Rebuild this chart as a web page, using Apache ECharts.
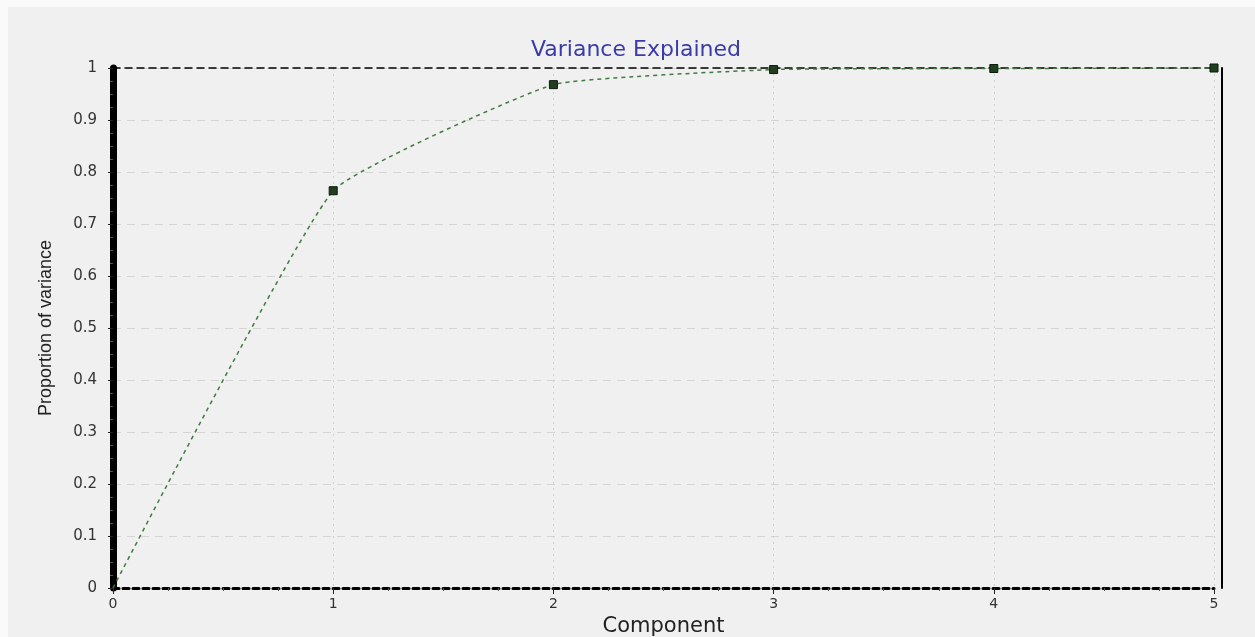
<!DOCTYPE html>
<html>
<head>
<meta charset="utf-8">
<script src="https://cdn.jsdelivr.net/npm/echarts@6/dist/echarts.min.js"></script>
<style>html,body{margin:0;padding:0;background:#fafafa;}#chart{width:1255px;height:637px;}</style>
</head>
<body>
<div id="chart"></div>
<script>
const components = [0, 1, 2, 3, 4, 5];
const proportion = [0, 0.764, 0.968, 0.997, 0.999, 1.0];
const xTicks = [0, 1, 2, 3, 4, 5];
const yTicks = [0, 0.1, 0.2, 0.3, 0.4, 0.5, 0.6, 0.7, 0.8, 0.9, 1];

const seriesData = components.map((c, i) => (
  i === 0 ? { value: [c, proportion[i]], symbol: 'none' } : [c, proportion[i]]
));
const chart = echarts.init(document.getElementById('chart'));
chart.setOption({
  backgroundColor: '#fafafa',
  animation: false,
  graphic: [{
    type: 'rect', z: -10, silent: true,
    shape: { x: 8, y: 7, width: 1247, height: 630 },
    style: { fill: '#f0f0f0' }
  }],
  title: {
    text: 'Variance Explained',
    left: 631, textAlign: 'center', top: 34,
    textStyle: { color: '#3a3aa8', fontFamily: 'DejaVu Sans', fontSize: 22, fontWeight: 'normal' }
  },
  grid: { left: 113, right: 41, top: 68, bottom: 49, outerBoundsMode: 'none', containLabel: false },
  xAxis: [{
    type: 'value', min: xTicks[0], max: xTicks[xTicks.length - 1], interval: 1,
    position: 'bottom',
    name: 'Component', nameLocation: 'middle', nameGap: 23,
    nameTextStyle: { fontFamily: 'DejaVu Sans', fontSize: 21, color: '#222', verticalAlign: 'top' },
    axisLine: { onZero: false, lineStyle: { color: '#000', width: 3, type: [6, 4] } },
    axisTick: { show: true, length: 6, lineStyle: { color: '#222', width: 1 } },
    minorTick: { show: true, splitNumber: 4, length: 3, lineStyle: { color: '#555' } },
    axisLabel: { margin: 9, fontFamily: 'DejaVu Sans', fontSize: 14, color: '#333' },
    splitLine: { show: true, lineStyle: { color: '#cfcfcf', type: [2, 4], width: 1 } }
  }, {
    type: 'value', min: 0, max: 5, position: 'top',
    axisLine: { onZero: false, lineStyle: { color: '#000', width: 1.5, type: [7, 5] } },
    axisTick: { show: false }, axisLabel: { show: false }, splitLine: { show: false }
  }],
  yAxis: [{
    type: 'value', min: yTicks[0], max: yTicks[yTicks.length - 1], interval: 0.1,
    position: 'left', offset: 10,
    name: 'Proportion of variance', nameLocation: 'middle', nameGap: 48,
    nameTextStyle: { fontFamily: 'Liberation Sans', fontSize: 18, color: '#222' },
    axisLine: { lineStyle: { color: '#000', width: 2 } },
    axisTick: { show: true, length: 5, lineStyle: { color: '#222' } },
    minorTick: { show: true, splitNumber: 4, length: 3, lineStyle: { color: '#555' } },
    axisLabel: { margin: 6, fontFamily: 'DejaVu Sans', fontSize: 15, color: '#333' },
    splitLine: { show: true, lineStyle: { color: '#d4d4d4', type: [8, 6], width: 1 } }
  }, {
    type: 'value', min: 0, max: 1, position: 'left', offset: 0,
    axisLine: { show: true, lineStyle: { color: '#000', width: 7 } },
    axisTick: { show: false }, axisLabel: { show: false }, splitLine: { show: false }
  }, {
    type: 'value', min: 0, max: 1, position: 'right', offset: 8,
    axisLine: { show: true, lineStyle: { color: '#000', width: 2 } },
    axisTick: { show: false }, axisLabel: { show: false }, splitLine: { show: false }
  }],
  series: [{
    type: 'line',
    data: seriesData,
    smooth: 0.12,
    symbol: 'rect', symbolSize: 8,
    itemStyle: { color: '#1f3f1f', borderColor: '#0a1a0a', borderWidth: 1 },
    lineStyle: { color: '#3f7a3f', width: 1.5, type: [4, 4] },
    z: 5
  }]
});
</script>
</body>
</html>
